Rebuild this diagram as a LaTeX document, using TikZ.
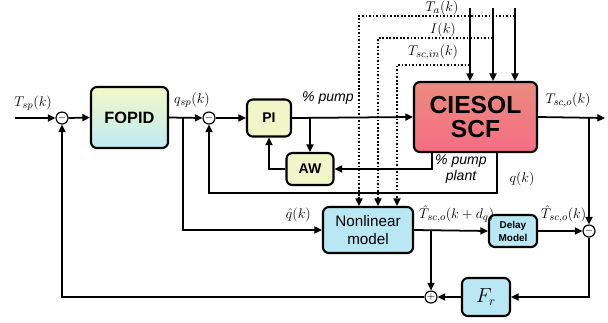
\documentclass[tikz,border=0pt]{standalone}
\usepackage{amsmath}
\usepackage{fontspec}
\setsansfont{Liberation Sans}
\usepackage{tikz}
\usetikzlibrary{arrows.meta, positioning}

\definecolor{ctrlfill}{HTML}{F1F6C8}
\definecolor{modfill}{HTML}{B9E8F4}
\definecolor{fopidtop}{HTML}{F4F8C6}
\definecolor{fopidbot}{HTML}{BDEAF5}
\definecolor{planttop}{HTML}{EA8B7E}
\definecolor{plantbot}{HTML}{F66D84}

\begin{document}
\begin{tikzpicture}[
  x=0.03cm, y=-0.03cm,
  >={Triangle[length=6.5pt, width=6pt]},
  block/.style={
    rectangle,
    draw=black,
    line width=1.8pt,
    rounded corners=5pt,
    align=center,
    inner sep=2pt
  },
  ctrl/.style={
    block,
    fill=ctrlfill,
    font=\sffamily\bfseries\fontsize{12}{14}\selectfont
  },
  model/.style={
    block,
    fill=modfill
  },
  sumpt/.style={
    circle,
    draw=black,
    line width=1pt,
    fill=white,
    minimum size=0.36cm,
    inner sep=0pt,
    font=\fontsize{9}{9}\selectfont
  },
  sig/.style={->, line width=1.5pt},
  meas/.style={->, line width=1.4pt, dash pattern=on 1.4pt off 1.6pt},
  lbl/.style={font=\fontsize{13}{15}\selectfont},
  itlbl/.style={font=\sffamily\itshape\fontsize{12}{14}\selectfont, align=center}
]
\useasboundingbox (0,0) rectangle (608,322);

% Controllers and plant
\node[sumpt] (s1) at (62,118) {$-$};
\node[block, minimum width=2.31cm, minimum height=1.83cm,
      top color=fopidtop, bottom color=fopidbot,
      font=\sffamily\bfseries\fontsize{14}{16}\selectfont] (fopid) at (129.5,117.5) {FOPID};
\node[sumpt] (s2) at (209,118) {$-$};
\node[ctrl, minimum width=1.32cm, minimum height=1.11cm] (pi) at (269,118) {PI};
\node[ctrl, minimum width=1.41cm, minimum height=0.96cm] (aw) at (310,169) {AW};
\node[block, minimum width=3.69cm, minimum height=2.1cm,
      top color=planttop, bottom color=plantbot,
      font=\sffamily\bfseries\fontsize{21}{20.5}\selectfont] (plant) at (475.5,117) {CIESOL\\SCF};

% Model branch
\node[model, minimum width=2.7cm, minimum height=1.38cm,
      font=\sffamily\fontsize{13}{16}\selectfont] (nlm) at (368,230) {Nonlinear\\model};
\node[model, minimum width=1.44cm, minimum height=0.96cm,
      font=\sffamily\bfseries\fontsize{8.5}{11}\selectfont] (delay) at (513,231) {Delay\\Model};
\node[sumpt] (s3) at (589,231) {$-$};
\node[model, minimum width=1.44cm, minimum height=1.14cm,
      font=\fontsize{16}{18}\selectfont] (fr) at (486,297) {$F_r$};
\node[sumpt] (s4) at (431,297) {$+$};

% Branch points and free ends
\coordinate (in) at (15,118);
\coordinate (out) at (605,118);
\coordinate (qbr) at (183,118);
\coordinate (awbr) at (310,118);
\coordinate (qk) at (497,193);
\coordinate (pp) at (432,169);

% Disturbances into the plant
\coordinate (taIn) at (515,8);
\coordinate (irIn) at (493,8);
\coordinate (tinIn) at (470,8);
\coordinate (taTap) at (515,16);
\coordinate (irTap) at (493,38);
\coordinate (tinTap) at (470,65);
\coordinate (taDn) at (359,16);
\coordinate (irDn) at (378,38);
\coordinate (tinDn) at (397,65);

% Main loop
\draw[sig] (in) -- (s1.west);
\draw[sig] (s1.east) -- (fopid.west);
\draw[sig] (fopid.east) -- (s2.west);
\draw[sig] (s2.east) -- (pi.west);
\draw[sig] (pi.east) -- (plant.west);
\draw[sig] (plant.east) -- (out);
\draw[sig] (awbr) -- (aw.north);
\draw[sig] (aw.west) -| (pi.south);
\draw[sig] (pp |- plant.south) -- (pp) -- (aw.east);
\draw[sig] (qk |- plant.south) -- (qk) -| (s2.south);

% Disturbances
\draw[sig] (taIn) -- (taIn |- plant.north);
\draw[sig] (irIn) -- (irIn |- plant.north);
\draw[sig] (tinIn) -- (tinIn |- plant.north);
\draw[meas] (taTap) -- (taDn) -- (taDn |- nlm.north);
\draw[meas] (irTap) -- (irDn) -- (irDn |- nlm.north);
\draw[meas] (tinTap) -- (tinDn) -- (tinDn |- nlm.north);

% Model correction
\draw[sig] (qbr) |- (nlm.west);
\draw[sig] (nlm.east) -- (delay.west);
\draw[sig] (delay.east) -- (s3.west);
\draw[sig] (s3 |- out) -- (s3.north);
\draw[sig] (s4 |- nlm.east) -- (s4.north);
\draw[sig] (s3.south) |- (fr.east);
\draw[sig] (fr.west) -- (s4.east);
\draw[sig] (s4.west) -| (s1.south);

% Signal labels
\node[lbl] (tspl) at (33,103) {$T_{sp}(k)$};
\node[lbl] (qspl) at (192,100) {$q_{sp}(k)$};
\node[itlbl] (pumpl) at (328,98) {\% pump};
\node[lbl] (tal) at (442,8) {$T_a(k)$};
\node[lbl] (irl) at (443,30) {$I(k)$};
\node[lbl] (tinl) at (433,52) {$T_{sc,in}(k)$};
\node[lbl] (tscl) at (568,100) {$T_{sc,o}(k)$};
\node[itlbl] (ppl) at (461,169) {\% pump\\plant};
\node[lbl] (qkl) at (522,179) {$q(k)$};
\node[lbl, anchor=south east, inner sep=0pt] (qhl) at (311,222) {$\hat{q}(k)$};
\node[lbl, anchor=south west, inner sep=0pt] (tdl) at (419,223) {$\hat{T}_{sc,o}(k+d_q)$};
\node[lbl, anchor=south west, inner sep=0pt] (tml) at (541,223) {$\hat{T}_{sc,o}(k)$};

\end{tikzpicture}
\end{document}
